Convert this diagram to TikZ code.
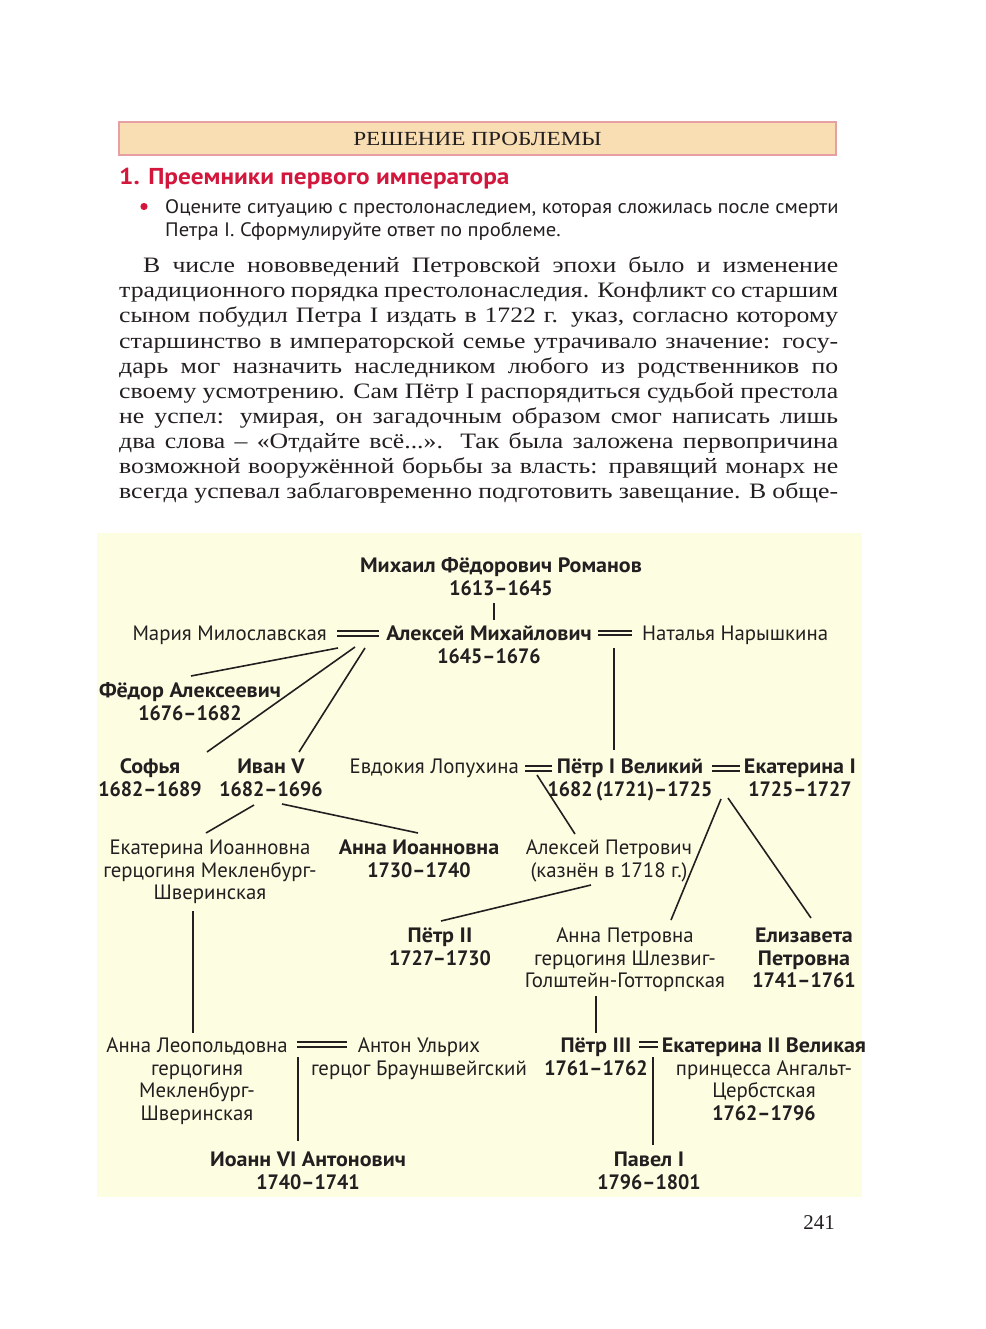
\documentclass[tikz,border=0pt]{standalone}
\usepackage{fontspec}
\setmainfont{Liberation Serif}
\newfontfamily\bodyfont{Liberation Serif}[FakeStretch=1.17]
\newfontfamily\hdrfont{Liberation Serif}[FakeStretch=1.16]
\newfontfamily\dsans{PT Sans}
\newfontfamily\dsanswide{PT Sans}[FakeStretch=1.06]
\newfontfamily\yrfont{PT Sans}[FakeStretch=0.955]
\newfontfamily\hsans{PT Sans}[FakeStretch=1.1]
\newfontfamily\csans{PT Sans}[FakeStretch=1.055]
\usetikzlibrary{calc}
\definecolor{ink}{HTML}{231F20}
\definecolor{diagbg}{HTML}{FDFDE2}
\definecolor{hdrfill}{HTML}{F9DDB3}
\definecolor{hdrline}{HTML}{E6A0A3}
\definecolor{accent}{HTML}{D3173C}
\newcommand{\pbf}[1]{{\dsanswide\bfseries #1}}
\newcommand{\yr}[1]{{\yrfont\bfseries #1}}
\tikzset{
  person/.style={inner sep=0pt, align=center, text=ink, anchor=base,
    font=\dsans\fontsize{20.8}{22.7}\selectfont},
  pbold/.style={person, font=\dsanswide\bfseries\fontsize{20.8}{22.7}\selectfont},
  link/.style={draw=ink, line width=1.6pt},
  marriage/.style={draw=ink, line width=2pt, double=diagbg, double distance=2.6pt},
  bodyline/.style={inner sep=0pt, anchor=base west, text=ink,
    font=\bodyfont\fontsize{22}{25}\selectfont},
}
\begin{document}
\begin{tikzpicture}[x=1pt,y=-1pt]
\useasboundingbox (0,0) rectangle (985,1329);
\fill[white] (0,0) rectangle (985,1329);

% header box
\node[draw=hdrline, line width=2pt, fill=hdrfill, minimum width=717pt, minimum height=33pt,
  inner sep=0pt, text=ink, font=\hdrfont\fontsize{20}{24}\selectfont] (hdr) at (477.5,138.5) {РЕШЕНИЕ ПРОБЛЕМЫ};

\node[inner sep=0pt, anchor=base west, text=accent, font=\hsans\bfseries\fontsize{23}{25}\selectfont] (heading) at (119,185) {1. Преемники первого императора};
\fill[accent] (144,206.5) circle (3.6pt);
\node[inner sep=0pt, anchor=base west, text=ink, font=\csans\fontsize{19.5}{23}\selectfont] (task1) at (165,213.5) {Оцените ситуацию с престолонаследием, которая сложилась после смерти};
\node[inner sep=0pt, anchor=base west, text=ink, font=\csans\fontsize{19.5}{23}\selectfont] (task2) at (165,236.5) {Петра I. Сформулируйте ответ по проблеме.};

% body text
\node[bodyline] (b1) at (143,273) {\makebox[695pt][s]{В числе нововведений Петровской эпохи было и изменение}};
\node[bodyline] (b2) at (119,298) {\makebox[719pt][s]{традиционного порядка престолонаследия. Конфликт со старшим}};
\node[bodyline] (b3) at (119,323) {\makebox[719pt][s]{сыном побудил Петра I издать в 1722 г. указ, согласно которому}};
\node[bodyline] (b4) at (119,348) {\makebox[719pt][s]{старшинство в императорской семье утрачивало значение: госу-}};
\node[bodyline] (b5) at (119,373) {\makebox[719pt][s]{дарь мог назначить наследником любого из родственников по}};
\node[bodyline] (b6) at (119,398) {\makebox[719pt][s]{своему усмотрению. Сам Пётр I распорядиться судьбой престола}};
\node[bodyline] (b7) at (119,423) {\makebox[719pt][s]{не успел: умирая, он загадочным образом смог написать лишь}};
\node[bodyline] (b8) at (119,448) {\makebox[719pt][s]{два слова – «Отдайте всё...». Так была заложена первопричина}};
\node[bodyline] (b9) at (119,473) {\makebox[719pt][s]{возможной вооружённой борьбы за власть: правящий монарх не}};
\node[bodyline] (b10) at (119,498) {\makebox[719pt][s]{всегда успевал заблаговременно подготовить завещание. В обще-}};

% diagram background
\fill[diagbg] (97,533) rectangle (862,1197);

% persons (anchor = baseline of last line)
\node[pbold] (mikhail) at (501,595) {Михаил Фёдорович Романов\\\yr{1613–1645}};
\node[person, anchor=base east] (maria) at (327,640.3) {Мария Милославская};
\node[pbold] (aleksey) at (489,663) {Алексей Михайлович\\\yr{1645–1676}};
\node[person, anchor=base west] (natalia) at (642,640.3) {Наталья Нарышкина};
\node[pbold] (fedor) at (190,720) {Фёдор Алексеевич\\\yr{1676–1682}};
\node[pbold] (sofia) at (150,796) {Софья\\\yr{1682–1689}};
\node[pbold] (ivan) at (271,796) {Иван V\\\yr{1682–1696}};
\node[person, anchor=base east] (evdokia) at (519,773.3) {Евдокия Лопухина};
\node[pbold] (petr1) at (630,796) {Пётр I Великий\\\yr{1682\,(1721)–1725}};
\node[pbold] (ekat1) at (800,796) {Екатерина I\\\yr{1725–1727}};
\node[person] (ekatI) at (210,899.7) {Екатерина Иоанновна\\герцогиня Мекленбург-\\Шверинская};
\node[pbold] (annaI) at (419,877) {Анна Иоанновна\\\yr{1730–1740}};
\node[person] (alekseyP) at (609,877) {Алексей Петрович\\(казнён в 1718 г.)};
\node[pbold] (petr2) at (440,965) {Пётр II\\\yr{1727–1730}};
\node[person] (annaP) at (625,987.7) {Анна Петровна\\герцогиня Шлезвиг-\\Голштейн-Готторпская};
\node[pbold] (elizaveta) at (804,987.7) {Елизавета\\Петровна\\\yr{1741–1761}};
\node[person] (annaL) at (197,1120.4) {Анна Леопольдовна\\герцогиня\\Мекленбург-\\Шверинская};
\node[person] (anton) at (419,1075) {Антон Ульрих\\герцог Брауншвейгский};
\node[pbold] (ioann) at (308,1189) {Иоанн VI Антонович\\\yr{1740–1741}};
\node[pbold] (petr3) at (596,1075) {Пётр III\\\yr{1761–1762}};
\node[person] (ekat2) at (764,1120.4) {\pbf{Екатерина II Великая}\\принцесса Ангальт-\\Цербстская\\\yr{1762–1796}};
\node[pbold] (pavel) at (649,1189) {Павел I\\\yr{1796–1801}};

% marriages
\draw[marriage] (337,633.5) -- (379,633.5);
\draw[marriage] (598,633) -- (632,633);
\draw[marriage] (525,768.5) -- (552,768.5);
\draw[marriage] (712,768.5) -- (740,768.5);
\draw[marriage] (297,1044.5) -- (347,1044.5);
\draw[marriage] (639,1044.5) -- (658,1044.5);

% connector end points
\coordinate (mikhail-out) at (494,603);
\coordinate (aleksey-in) at (494,620);
\coordinate (ma1) at (338,648);
\coordinate (ma2) at (355,647);
\coordinate (ma3) at (365,648);
\coordinate (fedor-in) at (191,676);
\coordinate (sofia-in) at (207,752);
\coordinate (ivan-in) at (299,752);
\coordinate (an-out) at (614,648);
\coordinate (petr1-in) at (614,750);
\coordinate (ep-out) at (537,775);
\coordinate (alekseyP-in) at (575,834);
\coordinate (pe-out1) at (721,799);
\coordinate (pe-out2) at (728,798);
\coordinate (annaP-in) at (671,920);
\coordinate (elizaveta-in) at (811,918);
\coordinate (ivan-out1) at (254,805);
\coordinate (ivan-out2) at (282,804);
\coordinate (ekatI-in) at (206,833);
\coordinate (annaI-in) at (418,833);
\coordinate (alekseyP-out) at (591,885);
\coordinate (petr2-in) at (441,921);
\coordinate (ekatI-out) at (193,911);
\coordinate (annaL-in) at (193,1033);
\coordinate (annaP-out) at (596,996);
\coordinate (petr3-in) at (596,1033);
\coordinate (la-out) at (298,1057);
\coordinate (ioann-in) at (298,1141);
\coordinate (pk-out) at (653,1057);
\coordinate (pavel-in) at (653,1145);

\draw[link] (mikhail-out) -- (aleksey-in);
\draw[link] (ma1) -- (fedor-in);
\draw[link] (ma2) -- (sofia-in);
\draw[link] (ma3) -- (ivan-in);
\draw[link] (an-out) -- (petr1-in);
\draw[link] (ep-out) -- (alekseyP-in);
\draw[link] (pe-out1) -- (annaP-in);
\draw[link] (pe-out2) -- (elizaveta-in);
\draw[link] (ivan-out1) -- (ekatI-in);
\draw[link] (ivan-out2) -- (annaI-in);
\draw[link] (alekseyP-out) -- (petr2-in);
\draw[link] (ekatI-out) -- (annaL-in);
\draw[link] (annaP-out) -- (petr3-in);
\draw[link] (la-out) -- (ioann-in);
\draw[link] (pk-out) -- (pavel-in);

% page number
\node[inner sep=0pt, anchor=base east, text=ink, font=\fontsize{21}{25}\selectfont] (page) at (835,1229) {241};
\end{tikzpicture}
\end{document}
